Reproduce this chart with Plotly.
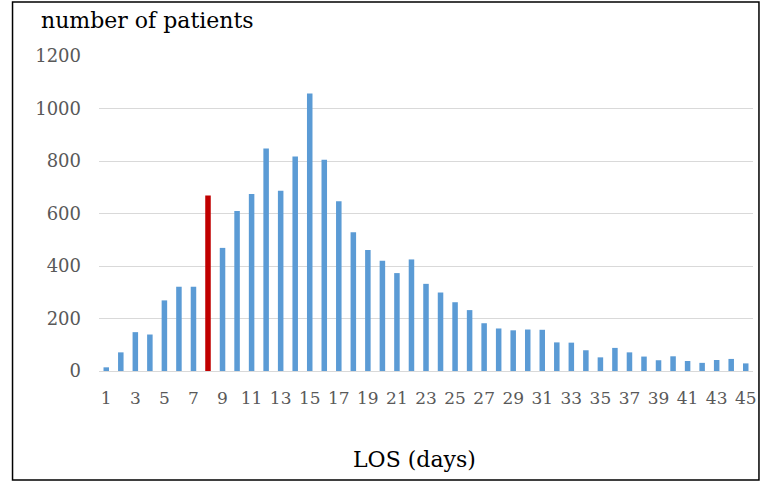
import plotly.graph_objects as go

los_days = list(range(1, 46))
patients = [14, 71, 148, 139, 269, 321, 321, 669, 469, 610,
            674, 848, 687, 817, 1057, 805, 647, 529, 461, 420,
            373, 425, 332, 299, 262, 232, 182, 162, 155, 158,
            157, 109, 108, 79, 52, 88, 71, 55, 41, 56,
            38, 31, 42, 46, 29]
highlight_day = 8
tick_labels = [str(d) if d % 2 == 1 else "" for d in los_days]

colors = ["#C00000" if d == highlight_day else "#5B9BD5" for d in los_days]

fig = go.Figure(go.Bar(
    x=[str(d) for d in los_days], y=patients, marker_color=colors,
    marker_line_width=0, width=0.38,
))

FONT = "DejaVu Serif"
L, R, T, B = 99, 8, 56, 111
W, H = 765, 482
pw, ph = W - L - R, H - T - B


def px_x(x):
    return (x - L) / pw


def px_y(y):
    return (H - B - y) / ph


fig.update_layout(
    width=W, height=H,
    margin=dict(l=L, r=R, t=T, b=B),
    paper_bgcolor="white", plot_bgcolor="white",
    showlegend=False,
    font=dict(family=FONT, color="#595959", size=18),
    xaxis=dict(
        type="category", tickmode="array",
        tickvals=[str(d) for d in los_days], ticktext=tick_labels,
        showgrid=False, showline=True, linecolor="#d9d9d9", linewidth=1,
        ticks="", ticklen=0, tickangle=0, ticklabelstandoff=12,
        range=[-0.5, 44.5],
        tickfont=dict(family=FONT, size=17, color="#595959"),
    ),
    yaxis=dict(
        range=[0, 1200], tickvals=[0, 200, 400, 600, 800, 1000, 1200],
        showgrid=True, gridcolor="#d9d9d9", gridwidth=1,
        zeroline=False, showline=False, ticks="", ticklabelstandoff=17,
        tickfont=dict(family=FONT, size=18, color="#595959"),
    ),
    annotations=[
        dict(text="number of patients", xref="paper", yref="paper",
             x=px_x(39), y=px_y(21), xanchor="left", yanchor="middle",
             showarrow=False, font=dict(family=FONT, size=22, color="black")),
        dict(text="LOS (days)", xref="paper", yref="paper",
             x=px_x(416), y=px_y(460), xanchor="center", yanchor="middle",
             showarrow=False, font=dict(family=FONT, size=22, color="black")),
    ],
    shapes=[
        dict(type="rect", xref="paper", yref="paper",
             x0=px_x(12), x1=px_x(763), y0=px_y(480), y1=px_y(2),
             line=dict(color="black", width=1.5), fillcolor="rgba(0,0,0,0)"),
    ],
)

fig.write_html("out.html", config={"displayModeBar": False},
               post_script="document.body.style.margin='0';")
